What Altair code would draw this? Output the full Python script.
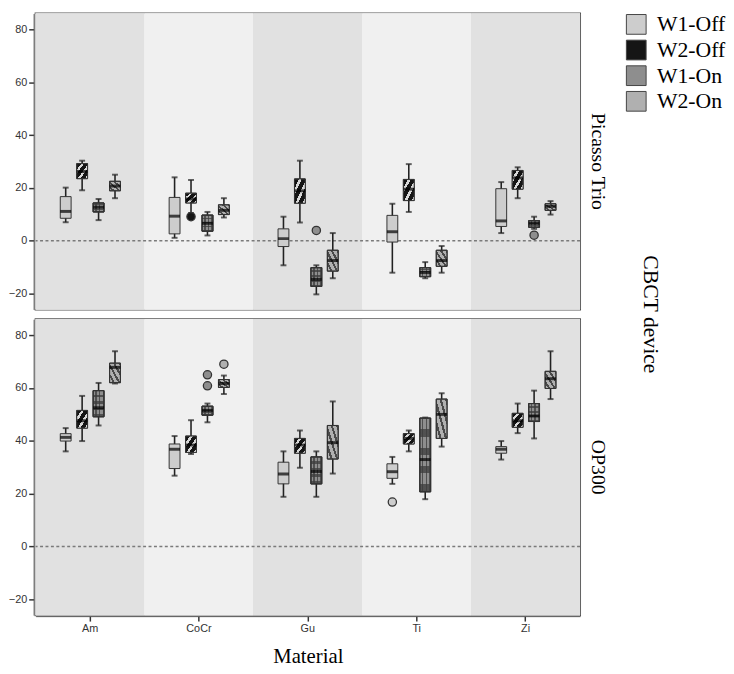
import altair as alt
import pandas as pd

materials = ["Am", "CoCr", "Gu", "Ti", "Zi"]
groups = ["W1-Off", "W2-Off", "W1-On", "W2-On"]
devices = ["Picasso Trio", "OP300"]

# order: material-major (Am, CoCr, Gu, Ti, Zi), group-minor (W1-Off, W2-Off, W1-On, W2-On)
pt_lo = [7.0, 19.1, 7.8, 16.1, 1.1, 10.5, 2.0, 8.8, -9.3, 6.9, -20.3, -14.2, -12.1, 10.9, -14.2, -12.1, 2.9, 16.1, 4.5, 9.9]
pt_q1 = [8.5, 23.5, 10.9, 18.9, 2.6, 14.3, 3.6, 9.9, -2.2, 14.2, -17.3, -11.5, -0.5, 15.2, -13.6, -9.7, 5.4, 19.5, 5.1, 11.5]
pt_med = [11.1, 26.2, 12.7, 20.7, 9.3, 15.8, 6.6, 11.5, 0.8, 18.9, -14.6, -7.5, 3.4, 19.5, -12.0, -7.5, 7.5, 23.8, 6.6, 13.0]
pt_q3 = [16.7, 29.2, 14.3, 22.5, 16.4, 18.0, 9.7, 13.6, 4.5, 23.4, -10.2, -3.6, 9.6, 23.2, -10.2, -3.6, 19.7, 26.6, 7.6, 14.0]
pt_hi = [20.1, 30.3, 15.8, 25.0, 24.0, 23.0, 10.9, 16.1, 9.1, 30.3, -9.3, 2.9, 14.0, 29.0, -8.1, -2.0, 22.2, 27.8, 9.1, 15.0]

op_lo = [36.0, 39.9, 45.8, 61.7, 26.8, 35.0, 47.0, 57.7, 18.8, 29.8, 18.8, 27.6, 23.7, 36.0, 17.9, 37.8, 32.9, 42.9, 40.9, 55.8]
op_q1 = [39.9, 44.8, 49.1, 62.0, 29.5, 35.6, 49.7, 60.2, 23.7, 35.3, 23.7, 33.1, 25.8, 38.8, 20.7, 40.9, 35.3, 45.1, 47.3, 59.8]
op_med = [41.3, 47.6, 52.5, 67.8, 36.8, 38.4, 51.5, 61.7, 27.4, 38.4, 28.4, 39.3, 28.3, 40.9, 32.9, 50.0, 36.8, 47.6, 49.4, 63.5]
op_q3 = [42.7, 51.5, 59.0, 69.4, 38.8, 41.8, 53.1, 63.2, 31.9, 40.9, 33.9, 45.8, 31.3, 42.7, 48.6, 55.8, 37.8, 50.4, 54.1, 66.3]
op_hi = [44.8, 57.0, 61.9, 73.9, 41.8, 47.8, 54.1, 64.7, 36.0, 43.9, 36.0, 54.9, 33.9, 43.9, 48.8, 58.0, 39.9, 54.1, 59.0, 73.9]

out_device = ["Picasso Trio", "Picasso Trio", "Picasso Trio", "OP300", "OP300", "OP300", "OP300"]
out_material = ["CoCr", "Gu", "Zi", "CoCr", "CoCr", "CoCr", "Ti"]
out_group = ["W2-Off", "W1-On", "W1-On", "W1-On", "W1-On", "W2-On", "W1-Off"]
out_value = [9.1, 3.9, 2.1, 65.0, 60.8, 69.0, 16.8]

rows = []
for dev, lo, q1, med, q3, hi in [("Picasso Trio", pt_lo, pt_q1, pt_med, pt_q3, pt_hi),
                                  ("OP300", op_lo, op_q1, op_med, op_q3, op_hi)]:
    k = 0
    for m in materials:
        for g in groups:
            rows.append(dict(device=dev, material=m, group=g, kind="box",
                             lo=lo[k], q1=q1[k], med=med[k], q3=q3[k], hi=hi[k]))
            k += 1
for d, m, g, v in zip(out_device, out_material, out_group, out_value):
    rows.append(dict(device=d, material=m, group=g, kind="out", value=v))
df = pd.DataFrame(rows)

SERIF = "Liberation Serif"
SANS = "Liberation Sans"
CLEAR = "rgba(0,0,0,0)"


def stripes(c1, c2, n, x1, y1, x2, y2, frac=0.5):
    stops = []
    for i in range(n):
        a, b, c = i / n, (i + frac) / n, (i + 1) / n
        stops += [alt.GradientStop(offset=a, color=c1), alt.GradientStop(offset=b, color=c1),
                  alt.GradientStop(offset=b, color=c2), alt.GradientStop(offset=min(c, 1.0), color=c2)]
    return alt.LinearGradient(gradient="linear", stops=stops, x1=x1, y1=y1, x2=x2, y2=y2)


x_enc = alt.X("material:N", sort=materials,
              scale=alt.Scale(domain=materials, paddingInner=0, paddingOuter=0),
              axis=alt.Axis(title="Material", labelAngle=0, titleFont=SERIF, titleFontSize=21,
                            titleFontWeight="normal", titleColor="black", titlePadding=12,
                            tickSize=5))
xo_enc = alt.XOffset("group:N", sort=groups,
                     scale=alt.Scale(domain=groups, range=[25, 86], paddingInner=0.34, paddingOuter=0))
y_scale = alt.Scale(domain=[-26, 86], nice=False, zero=False)
y_axis = alt.Axis(title=None, values=[-20, 0, 20, 40, 60, 80], tickSize=5, grid=False)

box = alt.Chart().transform_filter("datum.kind == 'box'")

bg = box.mark_rect().encode(
    x=x_enc,
    color=alt.Color("material:N", scale=alt.Scale(domain=materials,
                    range=["#e1e1e1", "#f0f0f0", "#e1e1e1", "#f0f0f0", "#e1e1e1"]), legend=None),
)

zero = box.transform_filter(
    "datum.material == 'Am' && datum.group == 'W1-Off'"
).mark_rule(color="#7a7a7a", strokeDash=[3, 2.5], strokeWidth=1.4).encode(
    y=alt.datum(0, scale=y_scale, axis=y_axis)
)

whisk = box.mark_rule(color="#222", strokeWidth=1.6).encode(
    x=x_enc, xOffset=xo_enc,
    y=alt.Y("lo:Q", scale=y_scale, axis=y_axis), y2="hi:Q")

cap_lo = box.mark_tick(color="#222", size=6, thickness=2).encode(
    x=x_enc, xOffset=xo_enc, y=alt.Y("lo:Q", scale=y_scale, axis=y_axis))
cap_hi = box.mark_tick(color="#222", size=6, thickness=2).encode(
    x=x_enc, xOffset=xo_enc, y=alt.Y("hi:Q", scale=y_scale, axis=y_axis))

fill_scale = alt.Scale(domain=groups, range=["#cdcdcd", "#151515", "#8e8e8e", "#b0b0b0"])
legend = alt.Legend(title=None, orient="none", legendX=598, legendY=0, symbolType="square",
                    symbolSize=400, symbolStrokeColor="#444", symbolStrokeWidth=1,
                    labelFont=SERIF, labelFontSize=22, labelColor="black", rowPadding=2,
                    labelOffset=10, symbolOpacity=1)

bars = box.mark_bar(stroke="#333", strokeWidth=1, opacity=1).encode(
    x=x_enc, xOffset=xo_enc,
    y=alt.Y("q1:Q", scale=y_scale, axis=y_axis), y2="q3:Q",
    fill=alt.Fill("group:N", scale=fill_scale, legend=legend),
)


def overlay(group, grad):
    return box.transform_filter(f"datum.group == '{group}'").mark_bar(
        fill=grad, stroke="#333", strokeWidth=1).encode(
        x=x_enc, xOffset=xo_enc,
        y=alt.Y("q1:Q", scale=y_scale, axis=y_axis), y2="q3:Q")


ov_w2off = overlay("W2-Off", stripes(CLEAR, "#d8d8d8", 3, 0, 0, 1, 1, frac=0.62))
ov_w2on = overlay("W2-On", stripes(CLEAR, "#4a4a4a", 4, 0, 1, 1, 0, frac=0.6))
ov_w1on_h = overlay("W1-On", stripes(CLEAR, "rgba(60,60,60,0.75)", 4, 0, 0, 0, 1, frac=0.6))
ov_w1on_v = overlay("W1-On", stripes(CLEAR, "rgba(60,60,60,0.75)", 3, 0, 0, 1, 0, frac=0.6))

med = box.mark_tick(color="black", thickness=3, size=11).encode(
    x=x_enc, xOffset=xo_enc, y=alt.Y("med:Q", scale=y_scale, axis=y_axis))

outs = alt.Chart().transform_filter("datum.kind == 'out'").mark_point(
    filled=True, size=70, stroke="#333", strokeWidth=1.3, opacity=1, shape="circle").encode(
    x=x_enc, xOffset=xo_enc,
    y=alt.Y("value:Q", scale=y_scale, axis=y_axis),
    fill=alt.Fill("group:N", scale=fill_scale, legend=legend),
)

layered = alt.layer(bg, zero, whisk, cap_lo, cap_hi, bars, ov_w2off, ov_w2on, ov_w1on_h,
                    ov_w1on_v, med, outs, data=df).properties(width=552, height=300)

chart = layered.facet(
    row=alt.Row("device:N", sort=devices, title="CBCT device",
                header=alt.Header(labelOrient="right", labelAngle=90, labelFont=SERIF,
                                  labelFontSize=20, labelColor="black", labelPadding=6,
                                  titleOrient="right", titleAngle=90, titleFont=SERIF,
                                  titleFontSize=22, titleFontWeight="normal",
                                  titleColor="black", titlePadding=22)),
    spacing=8,
).configure_view(
    stroke="#555", strokeWidth=2
).configure_axis(
    labelFont=SANS, labelFontSize=11, labelColor="#333", tickColor="#333",
    domainColor="#555", tickWidth=1.5
).properties(padding={"left": 0, "top": 0, "right": 0, "bottom": 0})

chart.save("out.html", embed_options={"renderer": "svg", "actions": False})
